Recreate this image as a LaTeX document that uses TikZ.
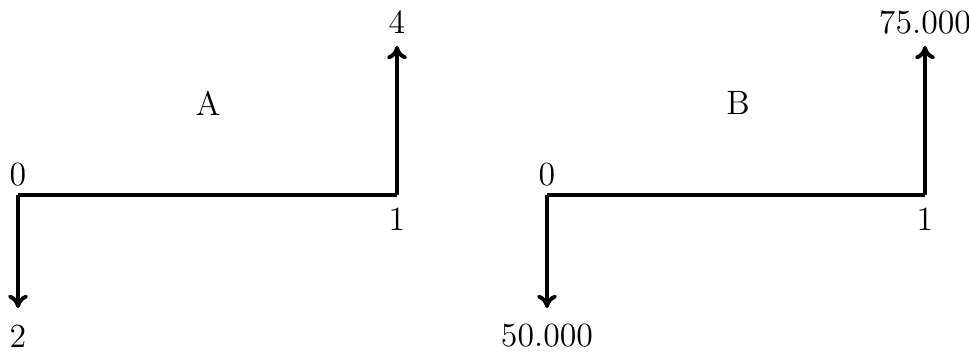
\documentclass[tikz,border=0pt]{standalone}
\usepackage{tikz}
\usetikzlibrary{arrows.meta, positioning}

\begin{document}
\begin{tikzpicture}[
  x=0.0135cm, y=-0.0135cm,
  flow/.style={-{To[length=1.8mm,width=2.7mm]}, line width=1.5pt},
  axis/.style={line width=1.5pt},
  lbl/.style={inner sep=0pt, font=\fontsize{13}{15}\selectfont},
]
\useasboundingbox (0,0) rectangle (969,352);
% left diagram
\coordinate (a0) at (18,195);
\coordinate (a1) at (397,195);
\coordinate (aout) at (18,308);
\coordinate (ain) at (397,46);
\node[lbl] (aname) at (208,103) {A};
\node[lbl] (az) at (18,175) {0};
\node[lbl] (ao) at (397,219) {1};
\node[lbl] (acost) at (18,336) {2};
\node[lbl] (again) at (397,22) {4};
\draw[axis] (a1) -- (a0);
\draw[flow] (a0) -- (aout);
\draw[flow] (a1) -- (ain);
% right diagram
\coordinate (b0) at (547,195);
\coordinate (b1) at (925,195);
\coordinate (bout) at (547,308);
\coordinate (bin) at (925,46);
\node[lbl] (bname) at (738,103) {B};
\node[lbl] (bz) at (547,175) {0};
\node[lbl] (bo) at (925,219) {1};
\node[lbl] (bcost) at (547,336) {50.000};
\node[lbl] (bgain) at (925,22) {75.000};
\draw[axis] (b1) -- (b0);
\draw[flow] (b0) -- (bout);
\draw[flow] (b1) -- (bin);
\end{tikzpicture}
\end{document}
